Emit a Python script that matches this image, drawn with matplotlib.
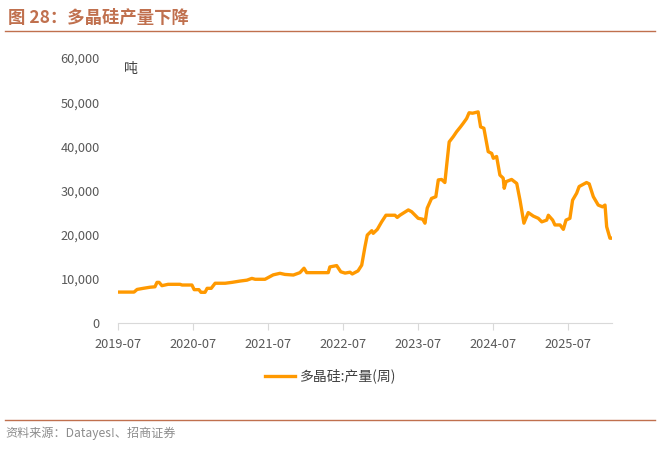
import pandas as pd
import matplotlib.pyplot as plt
from matplotlib.ticker import FuncFormatter

plt.rcParams['font.family'] = ['Noto Sans CJK SC', 'DejaVu Sans']

# weekly polysilicon output (tons)
dates = ['2019-07-01', '2019-09-17', '2019-10-02', '2019-11-01', '2019-12-04', '2019-12-28',
         '2020-01-07', '2020-01-17', '2020-01-31', '2020-03-01', '2020-04-28', '2020-05-08',
         '2020-06-25', '2020-07-06', '2020-07-29', '2020-08-08', '2020-08-28', '2020-09-07',
         '2020-09-27', '2020-10-16', '2020-12-04', '2021-01-06', '2021-02-15', '2021-03-20',
         '2021-04-13', '2021-04-29', '2021-06-16', '2021-07-10', '2021-07-26', '2021-08-28',
         '2021-09-21', '2021-11-01', '2021-12-03', '2021-12-23', '2022-01-05', '2022-04-20',
         '2022-04-28', '2022-05-31', '2022-06-20', '2022-07-11', '2022-08-04', '2022-08-15',
         '2022-09-12', '2022-09-30', '2022-10-16', '2022-10-27', '2022-11-18', '2022-11-25',
         '2022-12-15', '2023-01-05', '2023-01-26', '2023-03-11', '2023-03-22', '2023-04-04',
         '2023-05-15', '2023-05-31', '2023-07-02', '2023-07-24', '2023-08-04', '2023-08-15',
         '2023-09-05', '2023-09-26', '2023-10-08', '2023-10-24', '2023-11-09', '2023-11-18',
         '2023-11-30', '2023-12-20', '2024-01-05', '2024-01-24', '2024-02-06', '2024-02-23',
         '2024-03-06', '2024-03-23', '2024-04-19', '2024-05-01', '2024-05-17', '2024-06-07',
         '2024-06-24', '2024-07-02', '2024-07-18', '2024-08-03', '2024-08-19', '2024-08-24',
         '2024-09-02', '2024-09-29', '2024-10-24', '2024-11-09', '2024-11-28', '2024-12-19',
         '2025-01-13', '2025-02-06', '2025-02-23', '2025-03-19', '2025-03-27', '2025-04-17',
         '2025-04-28', '2025-05-23', '2025-06-08', '2025-06-21', '2025-07-10', '2025-07-23',
         '2025-08-12', '2025-08-24', '2025-09-05', '2025-09-29', '2025-10-12', '2025-11-01',
         '2025-11-25', '2025-12-16', '2025-12-28', '2026-01-05', '2026-01-21', '2026-01-31']
output = [7000, 7000, 7600, 7850, 8100, 8200,
          9200, 9200, 8450, 8760, 8760, 8600,
          8600, 7550, 7550, 6950, 6950, 7850,
          7850, 9000, 9000, 9200, 9500, 9700,
          10100, 9900, 9900, 10500, 10900, 11250,
          11000, 10860, 11400, 12400, 11400, 11400,
          12700, 13000, 11600, 11300, 11500, 11100,
          11800, 13100, 17300, 19900, 20900, 20300,
          21200, 22900, 24400, 24400, 23900, 24400,
          25600, 25200, 23700, 23500, 22600, 26000,
          28200, 28600, 32400, 32500, 31800, 35800,
          41000, 42200, 43300, 44400, 45200, 46300,
          47600, 47500, 47800, 44400, 44100, 38800,
          38400, 37300, 37700, 33500, 32800, 30500,
          32000, 32500, 31600, 27800, 22600, 25000,
          24200, 23700, 22900, 23300, 24400, 23300,
          22200, 22200, 21200, 23300, 23700, 27800,
          29400, 30900, 31200, 31800, 31500, 28600,
          26700, 26300, 26700, 21800, 19200, 19200]
tick_labels = ['2019-07', '2020-07', '2021-07', '2022-07', '2023-07', '2024-07', '2025-07']

df = pd.DataFrame({'date': pd.to_datetime(dates), 'output': output})

fig = plt.figure(figsize=(6.61, 4.5), dpi=100)
ax = fig.add_axes([118/661, 1 - 323/450, (612 - 118)/661, (323 - 58)/450])

ax.plot(df['date'], df['output'], color='#FF9900', lw=2.4, label='多晶硅:产量(周)')

ax.set_ylim(0, 60000)
ax.set_yticks(range(0, 60001, 10000))
ax.yaxis.set_major_formatter(FuncFormatter(lambda v, p: f'{int(v):,}'))
ax.set_xlim(df['date'].iloc[0], df['date'].iloc[-1])
ax.set_xticks(pd.to_datetime([t + '-01' for t in tick_labels]))
ax.set_xticklabels(tick_labels)

for s in ['top', 'right', 'left']:
    ax.spines[s].set_visible(False)
ax.spines['bottom'].set_color('#D9D9D9')
ax.tick_params(axis='y', length=0, pad=13, labelsize=9.2, labelcolor='#595959')
ax.tick_params(axis='x', length=5, color='#D9D9D9', pad=6, labelsize=9.2, labelcolor='#595959')

ax.text(0.012, 0.96, '吨', transform=ax.transAxes, fontsize=10, color='#404040', va='center')

ax.legend(loc='center', bbox_to_anchor=(0.43, -0.2), frameon=False, fontsize=10,
          handlelength=2.2, handletextpad=0.3, labelcolor='#404040')

# header / footer
fig.text(8/661, 1 - 18/450, '图 28：多晶硅产量下降', fontsize=12.5, fontweight='bold',
         color='#C0704E', va='center')
fig.add_artist(plt.Line2D([5/661, 655/661], [1 - 31/450] * 2, color='#C0704E', lw=1))
fig.add_artist(plt.Line2D([5/661, 655/661], [1 - 420/450] * 2, color='#C0704E', lw=1))
fig.text(5/661, 1 - 433/450, '资料来源：Datayes!、招商证券', fontsize=8.7, color='#8C8C8C', va='center')

fig.savefig('out.png', dpi=100)
